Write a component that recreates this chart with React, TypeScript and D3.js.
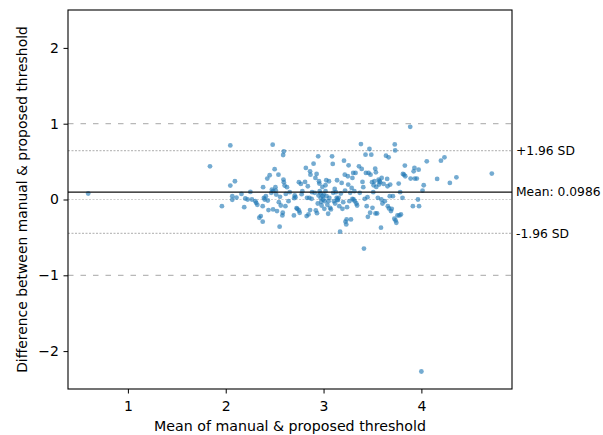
import React, { useEffect, useRef } from "react";
import * as d3 from "d3";

// x = mean of the two thresholds, y = their difference
const meanVals = [
  0.594, 1.839, 1.961, 2.047, 2.047, 2.094, 2.067, 2.067, 2.11, 2.161, 2.189, 2.2, 2.224, 2.252,
  2.268, 2.303, 2.311, 2.323, 2.343, 2.358, 2.378, 2.378, 2.382, 2.39, 2.398, 2.41, 2.425, 2.43,
  2.437, 2.449, 2.465, 2.472, 2.48, 2.484, 2.484, 2.5, 2.508, 2.512, 2.516, 2.524, 2.539, 2.543,
  2.551, 2.555, 2.563, 2.579, 2.583, 2.587, 2.594, 2.59, 2.594, 2.602, 2.61, 2.614, 2.626, 2.642,
  2.654, 2.697, 2.7, 2.705, 2.713, 2.724, 2.732, 2.748, 2.748, 2.756, 2.768, 2.776, 2.783, 2.811,
  2.819, 2.827, 2.831, 2.839, 2.846, 2.854, 2.862, 2.862, 2.866, 2.878, 2.882, 2.898, 2.909, 2.917,
  2.921, 2.929, 2.933, 2.941, 2.945, 2.949, 2.953, 2.957, 2.961, 2.969, 2.972, 2.976, 2.98, 2.988,
  2.992, 2.996, 3.0, 3.008, 3.012, 3.02, 3.02, 3.028, 3.031, 3.039, 3.047, 3.051, 3.055, 3.059,
  3.067, 3.075, 3.087, 3.094, 3.098, 3.106, 3.114, 3.118, 3.126, 3.134, 3.138, 3.142, 3.146, 3.154,
  3.161, 3.169, 3.177, 3.185, 3.193, 3.201, 3.209, 3.217, 3.22, 3.224, 3.232, 3.236, 3.24, 3.248,
  3.252, 3.256, 3.264, 3.272, 3.28, 3.287, 3.295, 3.295, 3.303, 3.307, 3.315, 3.319, 3.327, 3.335,
  3.343, 3.362, 3.37, 3.382, 3.39, 3.398, 3.406, 3.413, 3.421, 3.429, 3.433, 3.441, 3.449, 3.453,
  3.46, 3.469, 3.476, 3.48, 3.488, 3.496, 3.5, 3.508, 3.512, 3.52, 3.528, 3.531, 3.535, 3.539,
  3.547, 3.555, 3.563, 3.567, 3.571, 3.579, 3.587, 3.591, 3.594, 3.602, 3.614, 3.626, 3.638, 3.65,
  3.654, 3.657, 3.665, 3.669, 3.677, 3.681, 3.689, 3.697, 3.709, 3.724, 3.728, 3.732, 3.736, 3.744,
  3.756, 3.768, 3.776, 3.783, 3.791, 3.807, 3.811, 3.823, 3.831, 3.835, 3.886, 3.89, 3.913, 3.921,
  3.929, 3.933, 3.953, 3.965, 3.972, 3.976, 4.0, 4.012, 4.024, 4.055, 4.161, 4.2, 4.236, 4.291,
  4.358, 4.72,
];
const diffVals = [
  0.079, 0.438, -0.088, 0.714, 0.184, 0.241, 0.044, -0.004, 0.026, 0.074, -0.101, 0.013, 0.0, 0.1,
  0.0, -0.022, -0.044, -0.07, -0.241, -0.219, -0.293, -0.088, 0.162, 0.022, 0.0, 0.044, 0.276, -0.013,
  -0.14, 0.32, 0.088, 0.131, 0.723, 0.11, -0.131, 0.4, 0.162, 0.118, 0.066, -0.153, 0.328, -0.035,
  -0.359, 0.035, -0.079, -0.21, -0.175, 0.587, 0.635, 0.263, 0.228, 0.184, -0.088, 0.074, 0.162, -0.022,
  0.096, -0.21, 0.018, 0.053, 0.031, -0.114, -0.123, 0.228, -0.145, -0.175, 0.206, 0.07, 0.11, 0.232,
  0.416, -0.219, 0.022, 0.175, -0.197, 0.022, 0.372, -0.14, 0.328, 0.009, 0.096, 0.473, 0.088, 0.285,
  -0.145, 0.337, -0.18, -0.053, 0.569, 0.053, 0.241, 0.21, 0.11, 0.079, 0.018, -0.031, -0.079, 0.166,
  0.044, 0.0, 0.066, -0.123, -0.022, 0.188, 0.11, 0.254, 0.044, -0.07, -0.188, -0.022, 0.241, 0.022,
  -0.11, -0.131, 0.569, 0.469, 0.088, -0.022, 0.14, -0.053, 0.096, 0.022, 0.254, 0.0, -0.009, 0.022,
  -0.088, -0.425, 0.079, 0.219, -0.123, -0.035, 0.512, 0.328, 0.118, -0.293, -0.329, -0.263, -0.101, 0.307,
  0.197, 0.451, -0.022, 0.088, -0.263, 0.153, 0.285, 0.009, 0.35, 0.0, 0.11, -0.022, 0.35, -0.053,
  -0.079, 0.438, 0.088, 0.731, 0.403, 0.232, 0.162, -0.648, 0.009, 0.591, 0.35, -0.088, 0.031, -0.228,
  0.35, 0.666, -0.175, 0.328, 0.591, 0.228, -0.11, 0.096, 0.188, 0.241, 0.407, -0.184, 0.359, 0.166,
  -0.184, 0.022, 0.263, 0.197, 0.241, 0.228, -0.372, 0.0, 0.285, -0.053, 0.206, -0.022, 0.578, 0.272,
  0.175, -0.088, 0.556, -0.118, 0.044, 0.197, -0.153, -0.123, 0.044, -0.254, 0.727, 0.648, -0.276, -0.307,
  -0.21, 0.21, -0.21, 0.096, -0.197, 0.022, 0.337, 0.328, 0.447, 0.307, 0.959, 0.276, -0.088, 0.372,
  0.416, 0.276, 0.276, 0.0, 0.394, -0.088, -2.269, 0.118, 0.188, 0.504, 0.272, 0.512, 0.556, 0.219,
  0.293, 0.342,
];

const xTicks = [1, 2, 3, 4];
const yTicks = [-2, -1, 0, 1, 2];
const yLimits = [-2.5, 2.5];

const meanDiff = 0.0986;
const upperLoA = 0.645;
const lowerLoA = -0.448;
const guideLines = [-1, 1];

export default function App() {
  const ref = useRef(null);
  const width = 603;
  const height = 435;
  const margin = { top: 10, right: 91, bottom: 46, left: 68 };
  const innerW = width - margin.left - margin.right;
  const innerH = height - margin.top - margin.bottom;
  const font = "DejaVu Sans, sans-serif";

  useEffect(() => {
    const g = d3.select(ref.current);
    g.selectAll("*").remove();

    const [xmin, xmax] = d3.extent(meanVals) as [number, number];
    const pad = (xmax - xmin) * 0.05;
    const x = d3.scaleLinear().domain([xmin - pad, xmax + pad]).range([0, innerW]);
    const y = d3.scaleLinear().domain(yLimits).range([innerH, 0]);

    // reference lines
    g.selectAll(".guide")
      .data(guideLines)
      .enter()
      .append("line")
      .attr("x1", 0)
      .attr("x2", innerW)
      .attr("y1", d => y(d))
      .attr("y2", d => y(d))
      .attr("stroke", "#b8b8b8")
      .attr("stroke-width", 1.3)
      .attr("stroke-dasharray", "5.5,7");

    g.selectAll(".fine")
      .data([0, upperLoA, lowerLoA])
      .enter()
      .append("line")
      .attr("x1", 0)
      .attr("x2", innerW)
      .attr("y1", d => y(d))
      .attr("y2", d => y(d))
      .attr("stroke", (d, i) => (i === 0 ? "#d0d0d0" : "#bdbdbd"))
      .attr("stroke-width", 1.2)
      .attr("stroke-dasharray", "2,1.5");

    // points
    g.selectAll(".pt")
      .data(meanVals.map((m, i) => [m, diffVals[i]]))
      .enter()
      .append("circle")
      .attr("cx", d => x(d[0]))
      .attr("cy", d => y(d[1]))
      .attr("r", 2.4)
      .attr("fill", "#1f77b4")
      .attr("fill-opacity", 0.62);

    g.append("line")
      .attr("x1", 0)
      .attr("x2", innerW)
      .attr("y1", y(meanDiff))
      .attr("y2", y(meanDiff))
      .attr("stroke", "#111")
      .attr("stroke-width", 1.3);

    // axes
    const xAxis = g.append("g")
      .attr("transform", `translate(0, ${innerH})`)
      .call(d3.axisBottom(x).tickValues(xTicks).tickFormat(d3.format("d")).tickSize(4.5).tickPadding(8));
    const yAxis = g.append("g")
      .call(d3.axisLeft(y).tickValues(yTicks).tickFormat(d3.format("d")).tickSize(4.5).tickPadding(4.5));
    [xAxis, yAxis].forEach(a => {
      a.select(".domain").remove();
      a.selectAll("line").attr("stroke", "#000").attr("stroke-width", 1);
      a.selectAll("text")
        .style("font-family", font)
        .style("font-size", "14px")
        .attr("fill", "#000");
    });

    // frame
    g.append("rect")
      .attr("x", 0)
      .attr("y", 0)
      .attr("width", innerW)
      .attr("height", innerH)
      .attr("fill", "none")
      .attr("stroke", "#000")
      .attr("stroke-width", 1.1);

    // annotations
    const notes = [
      { v: upperLoA, t: "+1.96 SD" },
      { v: meanDiff, t: "Mean: 0.0986" },
      { v: lowerLoA, t: "-1.96 SD" },
    ];
    g.selectAll(".note")
      .data(notes)
      .enter()
      .append("text")
      .attr("x", innerW + 4)
      .attr("y", d => y(d.v))
      .attr("dy", "0.36em")
      .text(d => d.t)
      .style("font-family", font)
      .style("font-size", "12.3px")
      .attr("fill", "#000");

    g.append("text")
      .attr("x", innerW / 2)
      .attr("y", innerH + 42)
      .attr("text-anchor", "middle")
      .style("font-family", font)
      .style("font-size", "14.2px")
      .text("Mean of manual & proposed threshold");

    g.append("text")
      .attr("transform", `translate(${-41}, ${innerH / 2}) rotate(-90)`)
      .attr("text-anchor", "middle")
      .style("font-family", font)
      .style("font-size", "13.9px")
      .text("Difference between manual & proposed threshold");
  }, []);

  return (
    <svg
      width={width}
      height={height}
      style={{ position: "absolute", left: 0, top: 0, background: "#fff" }}
    >
      <g ref={ref} transform={`translate(${margin.left}, ${margin.top})`} />
    </svg>
  );
}
